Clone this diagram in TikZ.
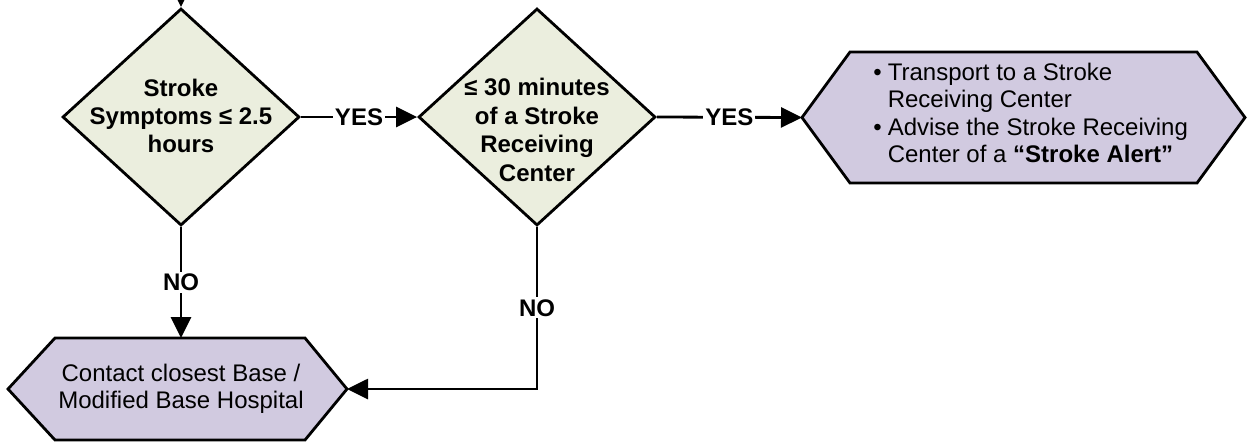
\documentclass[tikz,border=0pt]{standalone}
\usepackage{fontspec}
\setmainfont{Liberation Sans}
\usetikzlibrary{shapes.geometric,arrows.meta}
\definecolor{decfill}{RGB}{235,238,222}
\definecolor{hexfill}{RGB}{209,202,224}
\tikzset{
  decbox/.style={diamond,draw=black,fill=decfill,line width=1.4pt,inner sep=0pt,
    minimum width=118.5pt,minimum height=108.5pt},
  hexbox/.style={draw=black,fill=hexfill,line width=1.4pt},
  dectext/.style={align=center,inner sep=0pt,font=\fontsize{12}{14.2}\selectfont\bfseries},
  hextext/.style={inner sep=0pt,font=\fontsize{12}{13.6}\selectfont},
  conn/.style={line width=1.4pt,-{Triangle[length=10.5pt,width=10pt]}},
  lbl/.style={fill=white,inner sep=1pt,font=\fontsize{12}{14}\selectfont\bfseries}
}
\begin{document}
\begin{tikzpicture}[x=0.5pt,y=-0.5pt]
\useasboundingbox (0,0) rectangle (1253,441);
\clip (0,0) rectangle (1253,441);
\coordinate (top) at (181,-40);
% decisions
\node[decbox] (d1) at (181,117) {};
\node[dectext] (d1t) at (181,116) {Stroke\\Symptoms ≤ 2.5\\hours};
\node[decbox] (d2) at (537,117) {};
\node[dectext] (d2t) at (537,130) {≤ 30 minutes\\of a Stroke\\Receiving\\Center};
% hexagons
\draw[hexbox] (802,117.5) coordinate (h1w) -- (850,52) -- (1197,52) -- (1245,117.5)
  -- (1197,183) -- (850,183) -- cycle;
\node[hextext,anchor=west] (h1t) at (873,116) {%
  \begin{tabular}{@{}l@{\hspace{3pt}}l@{}}
  \textbullet & Transport to a Stroke\\
   & Receiving Center\\
  \textbullet & Advise the Stroke Receiving\\
   & Center of a \textbf{“Stroke Alert”}
  \end{tabular}};
\draw[hexbox] (8,389) -- (55,338) -- (305,338) -- (347,389) coordinate (h2e)
  -- (305,440) -- (55,440) -- cycle;
\coordinate (h2n) at (181,338);
\node[hextext,align=center] (h2t) at (181,389) {Contact closest Base /\\Modified Base Hospital};
% connectors
\draw[conn] (top) -- (d1.north);
\draw[conn] (d1.east) -- node[lbl] (yes1) {YES} (d2.west);
\draw[conn] (d2.east) -- node[lbl] (yes2) {YES} (h1w);
\draw[conn] (d1.south) -- node[lbl] (no1) {NO} (h2n);
\draw[conn] (d2.south) |- node[lbl,pos=0.25] (no2) {NO} (h2e);
\end{tikzpicture}
\end{document}
